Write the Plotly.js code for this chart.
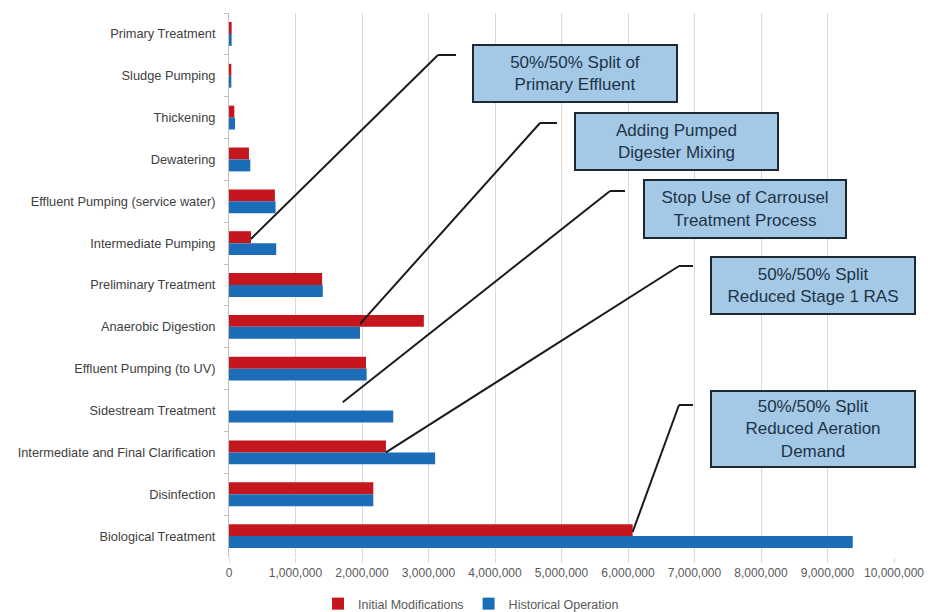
<!DOCTYPE html>
<html>
<head>
<meta charset="utf-8">
<script src="https://cdn.plot.ly/plotly-3.0.1.min.js"></script>
<style>html,body{margin:0;padding:0;background:#fff;}#chart{width:942px;height:612px;}</style>
</head>
<body>
<div id="chart"></div>
<script>
// ---- data ----
const categories = [
  "Primary Treatment",
  "Sludge Pumping",
  "Thickening",
  "Dewatering",
  "Effluent Pumping (service water)",
  "Intermediate Pumping",
  "Preliminary Treatment",
  "Anaerobic Digestion",
  "Effluent Pumping (to UV)",
  "Sidestream Treatment",
  "Intermediate and Final Clarification",
  "Disinfection",
  "Biological Treatment"
];
const initialModifications = [40000, 35000, 80000, 300000, 690000, 330000, 1400000, 2930000, 2060000, 0, 2360000, 2170000, 6070000];
const historicalOperation  = [40000, 35000, 90000, 320000, 700000, 710000, 1410000, 1970000, 2070000, 2470000, 3100000, 2170000, 9380000];
const xTickVals = [0,1000000,2000000,3000000,4000000,5000000,6000000,7000000,8000000,9000000,10000000];
const xTickText = ["0","1,000,000","2,000,000","3,000,000","4,000,000","5,000,000","6,000,000","7,000,000","8,000,000","9,000,000","10,000,000"];
const calloutTexts = [
  "50%/50% Split of<br>Primary Effluent",
  "Adding Pumped<br>Digester Mixing",
  "Stop Use of Carrousel<br>Treatment Process",
  "50%/50% Split<br>Reduced Stage 1 RAS",
  "50%/50% Split<br>Reduced Aeration<br>Demand"
];

// ---- layout geometry ----
const W = 942, H = 612;
const M = {l: 229, r: 48, t: 13, b: 55, autoexpand: false};
const PW = W - M.l - M.r, PH = H - M.t - M.b;
const XMAX = 10000000;
const nCat = categories.length;
const px2x = px => (px - M.l) / PW * XMAX;
const py2y = py => (py - M.t) / (PH / nCat) - 0.5;
const px2paper = px => (px - M.l) / PW;
const py2paper = py => (M.t + PH - py) / PH;

// callouts: start (data), elbow/end (pixels), box (pixels)
const callouts = [
  {sx: initialModifications[5], sy: 5 - 0.1, ex: 438, ey: 55, hx: 456, box: [472, 44, 678, 103]},
  {sx: historicalOperation[7], sy: 7 - 0.07, ex: 540, ey: 123, hx: 557, box: [574, 112, 779, 171]},
  {sx: 1710000, sy: 9 - 0.2, ex: 610, ey: 191, hx: 625, box: [643, 179, 847, 239]},
  {sx: initialModifications[10], sy: 10, ex: 679, ey: 266, hx: 693, box: [710, 256, 916, 315]},
  {sx: initialModifications[12], sy: 12 - 0.1, ex: 679, ey: 405, hx: 693, box: [710, 390, 916, 468]}
];

const shapes = [];
const annotations = [];
callouts.forEach((c, i) => {
  shapes.push({type: 'line', xref: 'x', yref: 'y', x0: c.sx, y0: c.sy, x1: px2x(c.ex), y1: py2y(c.ey),
               line: {color: '#1a1a1a', width: 2}});
  shapes.push({type: 'line', xref: 'x', yref: 'y', x0: px2x(c.ex), y0: py2y(c.ey), x1: px2x(c.hx), y1: py2y(c.ey),
               line: {color: '#1a1a1a', width: 2}});
  const [bx0, by0, bx1, by1] = c.box;
  annotations.push({
    xref: 'paper', yref: 'paper', x: px2paper(bx0), y: py2paper(by0), xanchor: 'left', yanchor: 'top',
    text: calloutTexts[i], showarrow: false, align: 'center', valign: 'middle',
    width: bx1 - bx0 - 4, height: by1 - by0 - 4, borderpad: 0, borderwidth: 2,
    bordercolor: '#1c2833', bgcolor: '#a4c9e6',
    font: {family: 'Liberation Sans, Arial, sans-serif', size: 17, color: '#1d3347'}
  });
});

const traces = [
  {type: 'bar', orientation: 'h', name: 'Initial Modifications', y: categories, x: initialModifications,
   marker: {color: '#c5161d'}, hoverinfo: 'x+y'},
  {type: 'bar', orientation: 'h', name: 'Historical Operation', y: categories, x: historicalOperation,
   marker: {color: '#1b6db8'}, hoverinfo: 'x+y'}
];

const layout = {
  width: W, height: H,
  margin: M,
  paper_bgcolor: '#ffffff', plot_bgcolor: '#ffffff',
  barmode: 'group', bargap: 0.43, bargroupgap: 0,
  font: {family: 'Liberation Sans, Arial, sans-serif', color: '#404040'},
  xaxis: {
    range: [0, XMAX], tickvals: xTickVals, ticktext: xTickText,
    showgrid: true, gridcolor: '#d9d9d9', gridwidth: 1, zeroline: false,
    showline: false, ticks: 'outside', ticklen: 5, tickcolor: '#d9d9d9',
    tickfont: {size: 12, color: '#595959'}, fixedrange: true
  },
  yaxis: {
    type: 'category', autorange: 'reversed', showgrid: false, zeroline: false,
    showline: true, linecolor: '#bfbfbf', linewidth: 1,
    ticks: 'outside', tickson: 'boundaries', ticklen: 4, tickcolor: '#bfbfbf',
    tickfont: {size: 12.8, color: '#404040'}, ticklabelstandoff: 10, fixedrange: true
  },
  legend: {
    orientation: 'h', x: px2paper(471), xanchor: 'center', y: py2paper(604), yanchor: 'middle',
    font: {size: 12.5, color: '#595959'}, itemwidth: 30, traceorder: 'normal'
  },
  shapes: shapes,
  annotations: annotations,
  showlegend: true
};

Plotly.newPlot('chart', traces, layout, {displayModeBar: false, staticPlot: true});
</script>
</body>
</html>
